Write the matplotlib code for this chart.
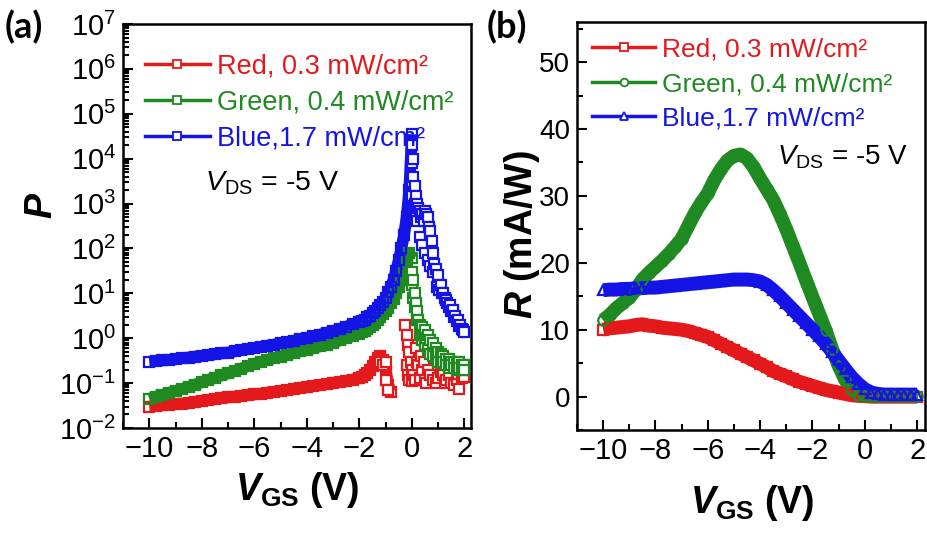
import numpy as np
import matplotlib
matplotlib.use("Agg")
import matplotlib.pyplot as plt
from matplotlib.lines import Line2D
from matplotlib.ticker import LogLocator, MultipleLocator, NullFormatter

plt.rcParams["font.family"] = ["Liberation Sans", "DejaVu Sans"]
plt.rcParams["mathtext.fontset"] = "custom"
plt.rcParams["mathtext.rm"] = "Liberation Sans"
plt.rcParams["mathtext.it"] = "Liberation Sans:italic:bold"
plt.rcParams["mathtext.bf"] = "Liberation Sans:bold"
plt.rcParams["mathtext.sf"] = "Liberation Sans:italic"

RED = "#e3191c"
GREEN = "#1f8a22"
BLUE = "#1414e6"
LABELS = ["Red, 0.3 mW/cm\u00b2", "Green, 0.4 mW/cm\u00b2", "Blue,1.7 mW/cm\u00b2"]

# ---- panel (a): photosensitivity P (log) ----
A_X_COARSE = np.round(np.arange(-10, -1.99, 0.25), 2)   # -10 .. -2
A_X_FINE = np.round(np.arange(-1.9, 0.01, 0.1), 2)      # -1.9 .. 0

A_BLUE_COARSE = [0.30, 0.31, 0.32, 0.33, 0.34, 0.36, 0.37, 0.39, 0.40, 0.42, 0.44,
                 0.46, 0.48, 0.51, 0.54, 0.57, 0.60, 0.64, 0.68, 0.72, 0.77, 0.82,
                 0.88, 0.95, 1.02, 1.10, 1.20, 1.32, 1.45, 1.60, 1.80, 2.05, 2.35]
A_BLUE_FINE = [2.4, 2.6, 2.9, 3.2, 3.6, 4.0, 4.6, 5.4, 6.5, 8.0, 10.5, 14, 20, 32,
               55, 100, 200, 500, 2000, 35000]
A_BLUE_SCAT_X = [0.0, 0.0, 0.0, 0.0, 0.05, 0.05, 0.1, 0.1, 0.15, 0.15, 0.2, 0.2, 0.25,
                 0.3, 0.3, 0.35, 0.4, 0.4, 0.45, 0.5, 0.5, 0.55, 0.6, 0.6, 0.65, 0.7,
                 0.7, 0.75, 0.8, 0.8, 0.85, 0.9, 0.95, 1.0, 1.05, 1.1, 1.15, 1.2, 1.25,
                 1.3, 1.35, 1.4, 1.45, 1.5, 1.55, 1.6, 1.65, 1.7, 1.75, 1.8, 1.85, 1.9,
                 1.95, 2.0]
A_BLUE_SCAT_Y = [20000, 8000, 3000, 1500, 10000, 4000, 2500, 1000, 1500, 600, 1000, 400,
                 800, 700, 180, 500, 600, 120, 400, 700, 80, 600, 500, 55, 300, 250, 40,
                 150, 80, 30, 45, 35, 14, 25, 12, 15, 10, 10, 8, 7, 6, 5, 5.5, 4, 4.2,
                 3, 3.2, 2.4, 2.6, 1.9, 2.0, 1.6, 1.5, 1.4]

A_GREEN_COARSE = [0.045, 0.050, 0.055, 0.061, 0.067, 0.074, 0.083, 0.093, 0.105, 0.118,
                  0.132, 0.148, 0.165, 0.185, 0.21, 0.24, 0.27, 0.30, 0.33, 0.36, 0.39,
                  0.43, 0.47, 0.51, 0.55, 0.60, 0.66, 0.72, 0.80, 0.89, 1.0, 1.12, 1.26]
A_GREEN_FINE = [1.35, 1.45, 1.6, 1.75, 1.95, 2.2, 2.5, 2.9, 3.4, 4.0, 4.8, 6.0, 7.5, 10,
                14, 20, 30, 50, 80, 60]
A_GREEN_SCAT_X = [0.0, 0.0, 0.05, 0.05, 0.1, 0.1, 0.15, 0.2, 0.2, 0.25, 0.3, 0.3, 0.35,
                  0.4, 0.4, 0.45, 0.5, 0.5, 0.55, 0.6, 0.6, 0.7, 0.7, 0.8, 0.8, 0.9, 0.9,
                  1.0, 1.0, 1.1, 1.1, 1.2, 1.2, 1.3, 1.3, 1.4, 1.4, 1.5, 1.5, 1.6, 1.6,
                  1.7, 1.7, 1.8, 1.8, 1.9, 1.9, 2.0, 2.0]
A_GREEN_SCAT_Y = [30, 15, 20, 8, 10, 5, 6, 4, 2.5, 2.5, 2, 1.2, 1.6, 1.8, 0.9, 1.2, 1.5,
                  0.7, 1.0, 1.2, 0.55, 0.9, 0.45, 0.8, 0.4, 0.6, 0.35, 0.5, 0.3, 0.45,
                  0.28, 0.4, 0.3, 0.35, 0.25, 0.35, 0.22, 0.3, 0.25, 0.3, 0.22, 0.28, 0.2,
                  0.3, 0.22, 0.25, 0.2, 0.25, 0.2]

A_RED_COARSE = [0.030, 0.031, 0.032, 0.033, 0.034, 0.035, 0.036, 0.038, 0.040, 0.042,
                0.044, 0.046, 0.048, 0.050, 0.052, 0.054, 0.056, 0.058, 0.061, 0.064,
                0.067, 0.070, 0.074, 0.078, 0.082, 0.086, 0.090, 0.095, 0.100, 0.106,
                0.113, 0.12, 0.13]
A_RED_FINE = [0.14, 0.15, 0.17, 0.2, 0.24, 0.3, 0.36, 0.4, 0.33, 0.2, 0.09, 0.065]
A_RED_SCAT_X = [-1.2, -1.1, -1.0, -1.0, -0.9, -0.25, -0.2, -0.2, -0.15, -0.15, -0.1, -0.1,
                -0.05, 0.0, 0.0, 0.05, 0.1, 0.15, 0.2, 0.25, 0.3, 0.35, 0.4, 0.45, 0.5,
                0.55, 0.6, 0.7, 0.8, 0.9, 1.0, 1.1, 1.2, 1.25, 1.3, 1.4, 1.5, 1.6, 1.7,
                1.75, 1.8, 1.9, 2.0]
A_RED_SCAT_Y = [0.3, 0.25, 0.12, 0.3, 0.07, 2.0, 1.2, 0.25, 0.7, 0.15, 0.5, 0.12, 0.3,
                0.2, 0.11, 0.15, 0.12, 0.6, 0.3, 0.25, 0.13, 0.4, 0.2, 0.3, 0.12, 0.1,
                0.2, 0.15, 0.12, 0.1, 0.13, 0.18, 0.15, 0.1, 0.12, 0.15, 0.1, 0.09, 0.12,
                0.16, 0.075, 0.13, 0.14]

# ---- panel (b): responsivity R (mA/W) ----
B_X = np.round(np.arange(-10, 2.01, 0.25), 2)
B_RED = [10.0, 10.2, 10.3, 10.4, 10.5, 10.7, 10.8, 10.6, 10.5, 10.3, 10.2, 10.1, 10.0,
         9.8, 9.5, 9.2, 8.9, 8.4, 7.9, 7.4, 6.9, 6.4, 5.9, 5.4, 4.9, 4.4, 3.8, 3.4, 3.0,
         2.6, 2.2, 1.9, 1.6, 1.3, 1.0, 0.8, 0.6, 0.4, 0.2, 0.1, 0.05,
         0, 0, 0, 0, 0, 0, 0, 0]
B_GREEN = [11.4, 12.2, 13.2, 14.0, 14.8, 16.0, 17.5, 18.5, 19.4, 20.3, 21.3, 22.4, 23.6,
           25.5, 27.4, 29.0, 30.4, 32.4, 34.0, 35.3, 36.0, 36.2, 35.6, 34.3, 32.6, 31.0,
           29.4, 27.3, 25.0, 22.5, 20.0, 17.4, 14.9, 12.4, 9.9, 7.1, 4.6, 2.5, 1.0, 0.3,
           0.1, 0.05, 0.05, 0.05, 0.05, 0.05, 0.05, 0.05, 0.05]
B_BLUE = [15.9, 16.0, 16.0, 16.1, 16.1, 16.2, 16.2, 16.3, 16.3, 16.4, 16.5, 16.6, 16.7,
          16.8, 16.9, 17.0, 17.1, 17.2, 17.3, 17.4, 17.5, 17.5, 17.5, 17.4, 17.2, 16.7,
          15.9, 15.0, 14.0, 13.0, 12.0, 11.0, 10.0, 9.0, 7.9, 6.7, 5.4, 4.1, 2.9, 1.9,
          1.1, 0.6, 0.4, 0.3, 0.3, 0.3, 0.3, 0.3, 0.3]

W, H = 928, 533
fig = plt.figure(figsize=(W / 100, H / 100), dpi=100)


def px_axes(left, top, right, bottom):
    return fig.add_axes([left / W, 1 - bottom / H, (right - left) / W, (bottom - top) / H])


def style_axes(ax, ysize):
    for sp in ax.spines.values():
        sp.set_linewidth(1.8)
    ax.tick_params(which="both", direction="in", top=False, right=False, width=1.5)
    ax.tick_params(which="major", length=7, pad=5)
    ax.tick_params(which="minor", length=4)
    ax.tick_params(axis="x", labelsize=21)
    ax.tick_params(axis="y", labelsize=ysize)
    ax.xaxis.set_major_locator(MultipleLocator(2))
    ax.xaxis.set_minor_locator(MultipleLocator(1))


def band(ax, x, y, color, marker, lw=8.5):
    # dense open symbols over a thick trace give the solid band of the measurement
    ax.plot(x, y, "-", color=color, lw=lw, solid_capstyle="butt", zorder=2)
    ax.plot(x, y, ls="none", marker=marker, ms=7.5, mew=1.6, mfc="none", mec=color, zorder=3)


def dots(ax, x, y, color, marker):
    ax.plot(x, y, ls="none", marker=marker, ms=7, mew=1.6, mfc="white", mec=color, zorder=3)


# (a)
ax = px_axes(123, 24, 471, 428)
style_axes(ax, 21)
ax.set_yscale("log")
band(ax, A_X_COARSE, A_RED_COARSE, RED, "s")
band(ax, A_X_FINE[:len(A_RED_FINE)], A_RED_FINE, RED, "s")
dots(ax, A_RED_SCAT_X, A_RED_SCAT_Y, RED, "s")
band(ax, A_X_COARSE, A_GREEN_COARSE, GREEN, "s")
band(ax, A_X_FINE, A_GREEN_FINE, GREEN, "s")
dots(ax, A_GREEN_SCAT_X, A_GREEN_SCAT_Y, GREEN, "s")
band(ax, A_X_COARSE, A_BLUE_COARSE, BLUE, "s")
band(ax, A_X_FINE, A_BLUE_FINE, BLUE, "s")
dots(ax, A_BLUE_SCAT_X, A_BLUE_SCAT_Y, BLUE, "s")
ax.set_xlim(-11, 2.25)
ax.set_ylim(1e-2, 1e7)
ax.yaxis.set_major_locator(LogLocator(base=10, numticks=20))
ax.yaxis.set_minor_locator(LogLocator(base=10, subs=np.arange(2, 10), numticks=200))
ax.yaxis.set_minor_formatter(NullFormatter())
handles = [Line2D([], [], color=c, lw=2.5, marker="s", ms=5.5, mfc="white", mew=1.3)
           for c in (RED, GREEN, BLUE)]
ax.legend(handles, LABELS, loc="upper left", bbox_to_anchor=(0.063, 0.927), frameon=False,
          prop={"size": 19.5}, labelcolor=[RED, GREEN, BLUE], handlelength=2.4,
          handletextpad=0.25, labelspacing=0.37, borderpad=0, borderaxespad=0)
ax.text(0.236, 0.606, r"$\mathsf{V}_{\mathrm{DS}}$ = -5 V", transform=ax.transAxes,
        fontsize=20.5, va="center", ha="left")

# (b)
bx = px_axes(577, 22, 925, 430)
style_axes(bx, 20)
band(bx, B_X, B_RED, RED, "s", lw=10)
band(bx, B_X, B_GREEN, GREEN, "o", lw=10)
band(bx, B_X, B_BLUE, BLUE, "^", lw=10)
bx.set_xlim(-11, 2.3)
bx.set_ylim(-5, 56)
bx.yaxis.set_major_locator(MultipleLocator(10))
bx.yaxis.set_minor_locator(MultipleLocator(5))
handles_b = [Line2D([], [], color=c, lw=2.5, marker=m, ms=5.5, mfc="white", mew=1.3)
             for c, m in ((RED, "s"), (GREEN, "o"), (BLUE, "^"))]
bx.legend(handles_b, LABELS, loc="upper left", bbox_to_anchor=(0.043, 0.962), frameon=False,
          prop={"size": 19}, labelcolor=[RED, GREEN, BLUE], handlelength=2.4,
          handletextpad=0.25, labelspacing=0.4, borderpad=0, borderaxespad=0)
bx.text(0.95, 0.669, r"$\mathsf{V}_{\mathrm{DS}}$ = -5 V", transform=bx.transAxes,
        fontsize=20, va="center", ha="right")

# axis titles and panel tags
fig.text(297 / W, 1 - 490 / H, r"$\mathit{V}_{\mathbf{GS}}$ (V)", fontsize=27,
         fontweight="bold", ha="center", va="center")
fig.text(752 / W, 1 - 503 / H, r"$\mathit{V}_{\mathbf{GS}}$ (V)", fontsize=27,
         fontweight="bold", ha="center", va="center")
fig.text(42 / W, 1 - 205 / H, r"$\mathit{P}$", fontsize=27, rotation=90,
         ha="center", va="center")
fig.text(522 / W, 1 - 235 / H, r"$\mathit{R}$ (mA/W)", fontsize=27, fontweight="bold",
         rotation=90, ha="center", va="center")
fig.text(5 / W, 1 - 27 / H, "(a)", fontsize=26, fontweight="bold", family="Lato",
         ha="left", va="center")
fig.text(487 / W, 1 - 27 / H, "(b)", fontsize=26, fontweight="bold", family="Lato",
         ha="left", va="center")

fig.savefig("out.png", dpi=100)
